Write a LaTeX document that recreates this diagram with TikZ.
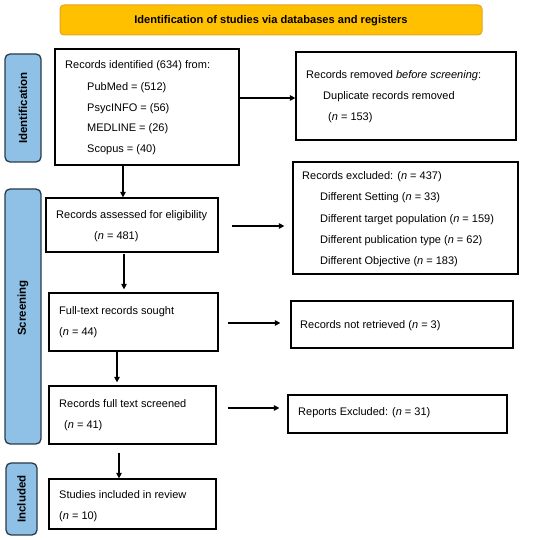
\documentclass[tikz,border=0pt]{standalone}
\usepackage{fontspec}
\setmainfont{Liberation Sans}
\usetikzlibrary{arrows.meta}
\definecolor{bannerfill}{HTML}{FFC000}
\definecolor{bannerdraw}{HTML}{E0A526}
\definecolor{phasefill}{HTML}{8FC1E6}
\definecolor{phasedraw}{HTML}{2B3A4A}
\begin{document}
\begin{tikzpicture}[x=1pt,y=-1pt,
  box/.style={draw=black,line width=1.3pt,rectangle,inner sep=0pt},
  phase/.style={draw=phasedraw,fill=phasefill,line width=1.3pt,rounded corners=5pt},
  phasetxt/.style={rotate=90,font=\fontsize{11.5}{13}\selectfont\bfseries,inner sep=0pt},
  txt/.style={anchor=west,inner sep=0pt,font=\fontsize{11}{13}\selectfont},
  arr/.style={line width=1.6pt,-{Triangle[length=5.5pt,width=5.5pt]}}]
\useasboundingbox (0,0) rectangle (550,540);
% banner
\draw[fill=bannerfill,draw=bannerdraw,line width=1pt,rounded corners=4pt] (60,5) rectangle (482,35);
\node[inner sep=0pt,font=\fontsize{11.1}{13}\selectfont\bfseries] (banner) at (271,21) {Identification of studies via databases and registers};
% phase labels
\draw[phase] (5,54) rectangle (41,162);
\node[phasetxt] (lid) at (23,108) {Identification};
\draw[phase] (5,189) rectangle (41,444);
\node[phasetxt] (lsc) at (23,308) {Screening};
\draw[phase] (6,463) rectangle (37,535);
\node[phasetxt] (lin) at (21.5,499) {Included};
% boxes
\node[box,minimum width=184pt,minimum height=116pt] (b1) at (147,107) {};
\node[box,minimum width=220pt,minimum height=88pt] (b2) at (406,96) {};
\node[box,minimum width=225pt,minimum height=112pt] (b3) at (405.5,218) {};
\node[box,minimum width=172pt,minimum height=54pt] (b4) at (132,225) {};
\node[box,minimum width=169pt,minimum height=58pt] (b5) at (133.5,322) {};
\node[box,minimum width=222pt,minimum height=47pt] (b6) at (402,324.5) {};
\node[box,minimum width=167pt,minimum height=58pt] (b7) at (132.5,415) {};
\node[box,minimum width=219pt,minimum height=38pt] (b8) at (397.5,414) {};
\node[box,minimum width=167pt,minimum height=50pt] (b9) at (132.5,504) {};
% texts
\node[txt] (t1a) at (65,66) {Records identified (634) from:};
\node[txt] (t1b) at (87,88) {PubMed = (512)};
\node[txt] (t1c) at (87,108.5) {PsycINFO = (56)};
\node[txt] (t1d) at (87,129) {MEDLINE = (26)};
\node[txt] (t1e) at (87,150) {Scopus = (40)};
\node[txt] (t2a) at (306,76) {Records removed \textit{before screening}:};
\node[txt] (t2b) at (323,97) {Duplicate records removed};
\node[txt] (t2c) at (328,118) {(\textit{n} = 153)};
\node[txt] (t3a) at (302,177) {Records excluded: (\textit{n} = 437)};
\node[txt] (t3b) at (320,198) {Different Setting (\textit{n} = 33)};
\node[txt] (t3c) at (320,219.5) {Different target population (\textit{n} = 159)};
\node[txt] (t3d) at (320,241) {Different publication type (\textit{n} = 62)};
\node[txt] (t3e) at (320,261.5) {Different Objective (\textit{n} = 183)};
\node[txt] (t4a) at (56,216) {Records assessed for eligibility};
\node[txt] (t4b) at (94,237) {(\textit{n} = 481)};
\node[txt] (t5a) at (59,312) {Full-text records sought};
\node[txt] (t5b) at (59,333) {(\textit{n} = 44)};
\node[txt] (t6a) at (300,326) {Records not retrieved (\textit{n} = 3)};
\node[txt] (t7a) at (59,404) {Records full text screened};
\node[txt] (t7b) at (64,426) {(\textit{n} = 41)};
\node[txt] (t8a) at (298,413) {Reports Excluded: (\textit{n} = 31)};
\node[txt] (t9a) at (59,495) {Studies included in review};
\node[txt] (t9b) at (59,517) {(\textit{n} = 10)};
% arrows
\draw[arr] (b1.east |- 0,98) -- (b2.west |- 0,98);
\draw[arr] (b1.south -| 123,0) -- (b4.north -| 123,0);
\draw[arr] ([xshift=13pt]b4.east |- 0,226) -- ([xshift=-8pt]b3.west |- 0,226);
\draw[arr] ([yshift=-1pt]b4.south -| 124,0) -- ([yshift=3pt]b5.north -| 124,0);
\draw[arr] ([xshift=9pt]b5.east |- 0,323) -- ([xshift=-10pt]b6.west |- 0,323);
\draw[arr] (b5.south -| 117,0) -- ([yshift=3pt]b7.north -| 117,0);
\draw[arr] ([xshift=11pt]b7.east |- 0,408) -- ([xshift=-8pt]b8.west |- 0,408);
\draw[arr] ([yshift=-8pt]b7.south -| 119,0) -- (b9.north -| 119,0);
\end{tikzpicture}
\end{document}
